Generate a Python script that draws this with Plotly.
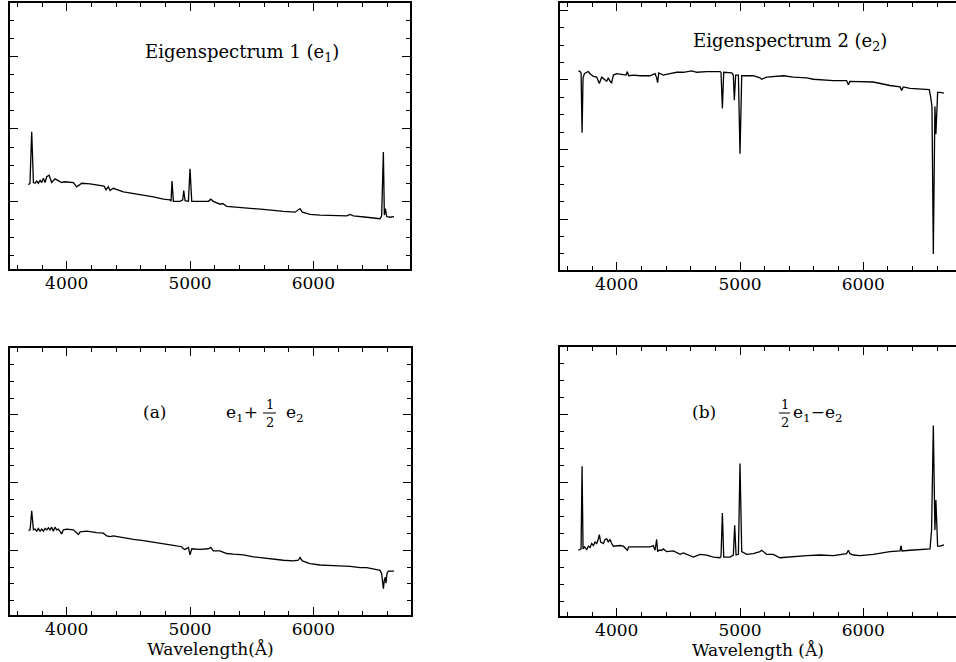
import plotly.graph_objects as go

# ---------------- data ----------------
E1_WAVE = [3689, 3702, 3716, 3730, 3743, 3757, 3770, 3784, 3797, 3811, 3824, 3838, 3857, 3878,
           3905, 3932, 3959, 3986, 4027, 4054, 4081, 4122, 4189, 4270, 4303, 4319, 4338, 4351,
           4378, 4460, 4541, 4622, 4703, 4784, 4838, 4846, 4854, 4865, 4919, 4941, 4949, 4960,
           4987, 5000, 5014, 5081, 5149, 5168, 5189, 5243, 5265, 5297, 5351, 5433, 5514, 5595,
           5676, 5757, 5852, 5879, 5892, 5911, 5973, 6054, 6162, 6271, 6298, 6325, 6433, 6514,
           6541, 6554, 6568, 6576, 6584, 6595, 6622, 6654]
E1_FLUX = [1.23, 1.25, 1.96, 1.26, 1.25, 1.28, 1.25, 1.29, 1.26, 1.32, 1.26, 1.34, 1.36, 1.26,
           1.31, 1.29, 1.26, 1.27, 1.27, 1.26, 1.20, 1.25, 1.24, 1.22, 1.21, 1.16, 1.20, 1.15,
           1.18, 1.13, 1.11, 1.08, 1.06, 1.03, 1.02, 1.00, 1.28, 1.00, 1.00, 1.02, 1.15, 1.01,
           1.00, 1.45, 1.00, 1.00, 1.00, 1.03, 1.00, 0.96, 0.97, 0.93, 0.92, 0.91, 0.90, 0.89,
           0.87, 0.86, 0.85, 0.88, 0.90, 0.85, 0.82, 0.81, 0.81, 0.80, 0.82, 0.80, 0.78, 0.76,
           0.76, 0.80, 1.68, 0.81, 0.90, 0.79, 0.78, 0.79]

E2_WAVE = [3689, 3703, 3711, 3719, 3727, 3738, 3757, 3770, 3784, 3811, 3838, 3859, 3878, 3905,
           3919, 3932, 3946, 3959, 3973, 4000, 4054, 4076, 4086, 4097, 4135, 4189, 4270, 4311,
           4324, 4332, 4341, 4378, 4432, 4487, 4541, 4608, 4649, 4730, 4838, 4846, 4857, 4868,
           4933, 4946, 4954, 4965, 4987, 5000, 5014, 5108, 5162, 5176, 5216, 5270, 5352, 5433,
           5541, 5595, 5757, 5865, 5879, 5892, 5973, 6081, 6216, 6298, 6311, 6325, 6379, 6460,
           6535, 6546, 6557, 6568, 6581, 6589, 6603, 6622, 6654]
E2_FLUX = [2.13, 2.12, 2.10, 1.24, 2.03, 2.09, 2.11, 2.12, 2.09, 2.05, 2.04, 1.95, 2.04, 2.00,
           1.98, 2.03, 1.98, 1.96, 2.07, 2.09, 2.07, 2.07, 2.12, 2.06, 2.07, 2.06, 2.06, 2.09,
           2.03, 1.96, 2.10, 2.07, 2.09, 2.11, 2.11, 2.13, 2.11, 2.12, 2.12, 2.11, 1.59, 2.11,
           2.10, 2.07, 1.71, 2.07, 2.07, 0.94, 2.06, 2.06, 2.03, 2.01, 2.04, 2.05, 2.06, 2.04,
           2.03, 2.01, 1.99, 1.99, 1.93, 1.98, 1.98, 1.97, 1.92, 1.90, 1.85, 1.90, 1.88, 1.87,
           1.86, 1.76, 1.62, -0.50, 1.62, 1.22, 1.82, 1.82, 1.81]

A_WAVE = [3689, 3703, 3716, 3730, 3743, 3757, 3770, 3784, 3797, 3811, 3824, 3838, 3851, 3865,
          3878, 3892, 3905, 3919, 3932, 3946, 3959, 3973, 4000, 4054, 4081, 4095, 4108, 4162,
          4243, 4297, 4324, 4351, 4378, 4460, 4541, 4622, 4703, 4784, 4865, 4932, 4946, 4960,
          4973, 4987, 5000, 5014, 5081, 5149, 5168, 5189, 5243, 5297, 5351, 5433, 5514, 5595,
          5676, 5757, 5838, 5879, 5892, 5911, 5973, 6054, 6162, 6271, 6298, 6379, 6433, 6514,
          6541, 6554, 6568, 6576, 6584, 6589, 6597, 6608, 6654]
A_FLUX = [1.29, 1.30, 1.58, 1.30, 1.31, 1.28, 1.32, 1.28, 1.31, 1.28, 1.32, 1.30, 1.33, 1.30,
          1.34, 1.28, 1.34, 1.30, 1.31, 1.27, 1.24, 1.30, 1.31, 1.30, 1.25, 1.23, 1.27, 1.28,
          1.26, 1.25, 1.21, 1.20, 1.21, 1.18, 1.16, 1.14, 1.12, 1.10, 1.07, 1.05, 1.02, 1.01,
          1.02, 1.04, 0.93, 1.02, 1.01, 1.02, 1.04, 0.99, 0.99, 0.95, 0.94, 0.93, 0.90, 0.88,
          0.86, 0.85, 0.84, 0.85, 0.89, 0.84, 0.80, 0.78, 0.77, 0.76, 0.76, 0.74, 0.74, 0.71,
          0.70, 0.65, 0.43, 0.56, 0.60, 0.51, 0.65, 0.69, 0.69]

B_WAVE = [3689, 3703, 3711, 3719, 3727, 3738, 3749, 3757, 3770, 3784, 3797, 3811, 3824, 3838,
          3851, 3859, 3870, 3892, 3905, 3919, 3932, 3946, 3959, 3973, 4027, 4054, 4076, 4086,
          4097, 4135, 4189, 4270, 4297, 4311, 4324, 4332, 4341, 4365, 4378, 4405, 4460, 4514,
          4541, 4622, 4676, 4730, 4784, 4838, 4846, 4857, 4868, 4919, 4946, 4957, 4968, 4987,
          5000, 5014, 5054, 5108, 5162, 5176, 5216, 5270, 5324, 5379, 5433, 5541, 5649, 5757,
          5865, 5879, 5892, 5919, 5973, 6081, 6216, 6298, 6306, 6314, 6379, 6460, 6541, 6554,
          6568, 6581, 6589, 6603, 6622, 6654]
B_FLUX = [1.00, 1.01, 1.02, 2.24, 1.02, 1.05, 1.02, 1.01, 1.06, 1.04, 1.10, 1.07, 1.12, 1.10,
          1.17, 1.23, 1.12, 1.10, 1.16, 1.17, 1.12, 1.16, 1.10, 1.06, 1.07, 1.06, 1.02, 1.00,
          1.05, 1.05, 1.04, 1.05, 1.07, 1.00, 1.16, 0.98, 1.00, 1.00, 1.02, 0.98, 0.99, 0.94,
          0.96, 0.90, 0.94, 0.93, 0.90, 0.89, 0.91, 1.55, 0.90, 0.90, 0.93, 1.37, 0.93, 0.94,
          2.28, 0.98, 0.94, 0.95, 0.98, 1.00, 0.94, 0.94, 0.89, 0.90, 0.90, 0.92, 0.93, 0.92,
          0.95, 1.00, 0.95, 0.93, 0.92, 0.94, 0.98, 0.99, 1.07, 0.99, 1.00, 1.01, 1.02, 1.30,
          2.84, 1.30, 1.74, 1.06, 1.06, 1.08]

for w, f in [(E1_WAVE, E1_FLUX), (E2_WAVE, E2_FLUX), (A_WAVE, A_FLUX), (B_WAVE, B_FLUX)]:
    assert len(w) == len(f), (len(w), len(f))

XTICK_LABELS = ["4000", "5000", "6000"]
XTICK_VALS = [4000, 5000, 6000]

# ---------------- layout ----------------
W, H = 956, 662
FONT = "DejaVu Serif"


def px_x(x):
    return x / W


def px_y(y):
    return 1 - y / H


fig = go.Figure()
panels = [
    # wave, flux, x-domain px, y-domain px (top, bottom), x range, y range, right panel?, title
    (E1_WAVE, E1_FLUX, (10, 410), (3, 269), (3540, 6784), (0.065, 3.74), False, None),
    (E2_WAVE, E2_FLUX, (560, 956), (3, 270), (3540, 6752), (-0.73, 3.105), True, None),
    (A_WAVE, A_FLUX, (10, 411), (348, 615), (3540, 6792), (0.04, 3.99), False, "Wavelength(Å)"),
    (B_WAVE, B_FLUX, (560, 956), (347, 616), (3540, 6752), (0.03, 4.0), True, "Wavelength (Å)"),
]

layout_axes = {}
for i, (wv, fl, xd, yd, xr, yr, right, xtitle) in enumerate(panels, start=1):
    sfx = "" if i == 1 else str(i)
    fig.add_trace(go.Scatter(x=wv, y=fl, mode="lines",
                             line=dict(color="black", width=1.3),
                             xaxis="x" + sfx, yaxis="y" + sfx, showlegend=False,
                             hoverinfo="skip"))
    xa = dict(domain=[px_x(xd[0]), px_x(xd[1])], range=list(xr), anchor="y" + sfx,
              showline=True, linewidth=2, linecolor="black", mirror="allticks",
              ticks="inside", ticklen=8, tickwidth=1, tickcolor="black",
              tickvals=XTICK_VALS, ticktext=XTICK_LABELS,
              tickfont=dict(family=FONT, size=17, color="black"),
              minor=dict(dtick=200, tick0=0, ticks="inside", ticklen=4,
                         tickwidth=1, tickcolor="black", showgrid=False),
              showgrid=False, zeroline=False, ticklabelstandoff=-2)
    if xtitle:
        xa["title"] = dict(text=xtitle, font=dict(family=FONT, size=17, color="black"),
                           standoff=4)
    ya = dict(domain=[px_y(yd[1]), px_y(yd[0])], range=list(yr), anchor="x" + sfx,
              showline=True, linewidth=2, linecolor="black",
              mirror=False if right else "allticks",
              ticks="inside", ticklen=8, tickwidth=1, tickcolor="black",
              dtick=1, tick0=0, showticklabels=False,
              minor=dict(dtick=0.25, tick0=0, ticks="inside", ticklen=4,
                         tickwidth=1, tickcolor="black", showgrid=False),
              showgrid=False, zeroline=False)
    layout_axes["xaxis" + sfx] = xa
    layout_axes["yaxis" + sfx] = ya

fig.update_layout(width=W, height=H, margin=dict(l=0, r=0, t=0, b=0),
                  paper_bgcolor="white", plot_bgcolor="white", **layout_axes)


def txt(x, y, s, size=16):
    fig.add_annotation(x=px_x(x), y=px_y(y), xref="paper", yref="paper", text=s,
                       showarrow=False, xanchor="center", yanchor="middle",
                       font=dict(family=FONT, size=size, color="black"))


txt(242, 53, "Eigenspectrum 1 (e<sub>1</sub>)", 18)
txt(790, 42, "Eigenspectrum 2 (e<sub>2</sub>)", 18)

# panel (a) label and expression
txt(154, 412, "(a)", 17)
txt(242, 413, "e<sub>1</sub>+", 17)
txt(269.5, 404, "1", 13)
txt(270, 422, "2", 13)
txt(295, 413, "e<sub>2</sub>", 17)
fig.add_shape(type="line", xref="paper", yref="paper",
              x0=px_x(263), x1=px_x(276), y0=px_y(413), y1=px_y(413),
              line=dict(color="black", width=1))

# panel (b) label and expression
txt(704, 412, "(b)", 17)
txt(784.5, 404, "1", 13)
txt(784.5, 422, "2", 13)
txt(818, 413, "e<sub>1</sub>\u2212e<sub>2</sub>", 17)
fig.add_shape(type="line", xref="paper", yref="paper",
              x0=px_x(779), x1=px_x(790), y0=px_y(413), y1=px_y(413),
              line=dict(color="black", width=1))

fig.write_html("out.html", config={"displayModeBar": False},
               post_script="document.body.style.margin='0';")
